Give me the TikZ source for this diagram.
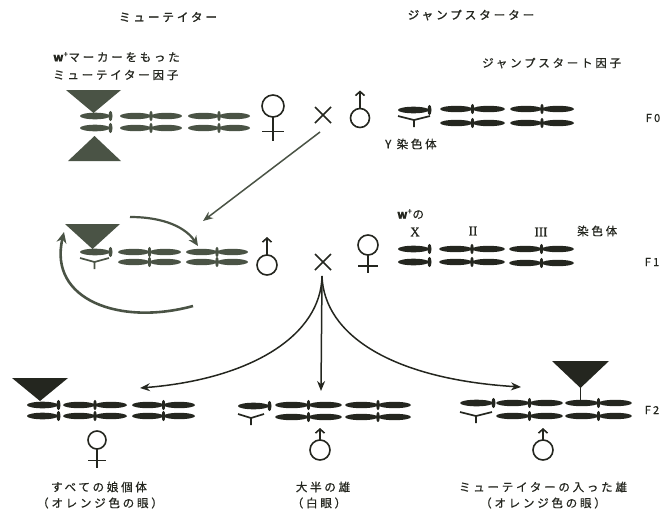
\documentclass[tikz,border=0pt]{standalone}
\usepackage{fontspec}
\setmainfont[FakeBold=0.7]{Noto Sans CJK JP}
\newfontfamily\headfont[FakeBold=1.6]{Noto Sans CJK JP}
\newfontfamily\numfont[FakeBold=0.8]{Liberation Serif}
\usetikzlibrary{arrows.meta}

\definecolor{ink}{HTML}{24261F}
\definecolor{mink}{HTML}{4A5345}

\tikzset{
  lab/.style={inner sep=0pt, text=ink,
    font=\fontsize{11.5}{13}\selectfont\addfontfeatures{LetterSpace=24}},
  title/.style={inner sep=0pt, text=ink,
    font=\headfont\fontsize{11.5}{13}\selectfont\addfontfeatures{LetterSpace=26}},
  gen/.style={inner sep=0pt, text=ink,
    font=\fontsize{11}{12}\selectfont\addfontfeatures{LetterSpace=20}},
  roman/.style={inner sep=0pt, text=ink, font=\numfont\fontsize{13}{15}\selectfont},
  sym/.style={draw=ink, line width=1.6pt},
  arr/.style={draw=ink, line width=1.5pt, -{Stealth[length=10pt,width=8pt]}},
  arrM/.style={draw=mink, line width=1.5pt, -{Stealth[length=10pt,width=8pt]}},
  arrBig/.style={draw=mink, line width=2.6pt, -{Stealth[length=11pt,width=10pt]}},
}

% metacentric chromosome: colour, left x, y, length
\newcommand\chrM[4]{%
  \fill[#1] ({#2+#4*0.25},#3) ellipse [x radius={#4*0.25}, y radius=3.2];
  \fill[#1] ({#2+#4*0.75},#3) ellipse [x radius={#4*0.25}, y radius=3.2];
  \fill[#1] ({#2+#4*0.5},#3) ellipse [x radius=1.8, y radius=5.2];}
% X chromosome with its knob at the right end: colour, left x, y, length
\newcommand\chrX[4]{%
  \fill[#1] ({#2+(#4-3)/2},#3) ellipse [x radius={(#4-3)/2}, y radius=3.3];
  \fill[#1] ({#2+#4-2.5},#3) ellipse [x radius=2, y radius=5.2];}
% Y chromosome: colour, left x, top y, width
\newcommand\chrY[4]{%
  \draw[#1, line width=1.7pt] (#2,#3) -- ({#2+#4/2},{#3+4}) -- ({#2+#4},#3)
    ({#2+#4/2},{#3+4}) -- ({#2+#4/2},{#3+11});}
% transposon triangle: colour, left, right, base y, apex y
\newcommand\trid[5]{%
  \fill[#1] (#2,#4) -- (#3,#4) -- ({(#2+#3)/2},#5) -- cycle;}
% female sign: x, y of ring centre, radius, tail length
\newcommand\femsym[4]{%
  \draw[sym] (#1,#2) circle [radius=#3];
  \draw[sym] (#1,{#2+#3}) -- (#1,{#2+#3+#4});
  \draw[sym] ({#1-#3},{#2+#3+#4*0.6}) -- ({#1+#3},{#2+#3+#4*0.6});}
% male sign with an upright arrow: x, y of ring centre, radius, stem length
\newcommand\malesym[4]{%
  \draw[sym] (#1,#2) circle [radius=#3];
  \draw[sym, -{Straight Barb[length=4pt,width=9pt]}] (#1,{#2-#3}) -- (#1,{#2-#3-#4});}
% cross sign
\newcommand\crosssym[2]{%
  \draw[sym] ({#1-8},{#2-8}) -- ({#1+8},{#2+8}) ({#1-8},{#2+8}) -- ({#1+8},{#2-8});}

\begin{document}
\begin{tikzpicture}[x=1pt,y=-1pt]
\useasboundingbox (0,0) rectangle (667,517);

% ---- headings
\node[title] (tmut) at (168,17) {ミューテイター};
\node[title] (tjump) at (471,15) {ジャンプスターター};
\node[lab, anchor=west] (mutA) at (53,57) {{\bfseries w}\textsuperscript{+}マーカーをもった};
\node[lab, anchor=west] (mutB) at (53,75) {ミューテイター因子};
\node[lab, anchor=west] (jsf) at (482,63) {ジャンプスタート因子};

% ---- generation F0
\trid{mink}{66}{121}{90}{113}
\trid{mink}{68}{121}{161}{136}
\chrX{mink}{80}{116}{33}
\chrX{mink}{80}{128}{33}
\chrM{mink}{120}{116}{62}
\chrM{mink}{120}{128}{62}
\chrM{mink}{188}{116}{62}
\chrM{mink}{188}{128}{62}
\femsym{273}{106}{11}{24}
\crosssym{323}{115}
\coordinate (x0) at (323,115);
\malesym{360}{118}{9.5}{18}
\chrX{ink}{398}{110}{34}
\chrY{ink}{398}{116}{32}
\chrM{ink}{440}{109}{65}
\chrM{ink}{440}{123}{65}
\chrM{ink}{510}{109}{64}
\chrM{ink}{510}{123}{64}
\node[lab, anchor=west] (ylab) at (385,144) {Y 染色体};
\node[gen] (g0) at (653,118) {F0};

% ---- generation F1
\coordinate (a0s) at (320,132);
\coordinate (a0e) at (203,221);
\draw[arrM] (a0s) -- (a0e);

\trid{mink}{65}{120}{224}{249}
\chrX{mink}{80}{252}{33}
\chrY{mink}{80}{258}{29}
\chrM{mink}{118}{252}{63}
\chrM{mink}{118}{262}{63}
\chrM{mink}{186}{252}{62}
\chrM{mink}{186}{262}{62}
\coordinate (hopS) at (130,217);
\coordinate (hopE) at (198,246);
\draw[draw=mink, line width=2.2pt, -{Stealth[length=10pt,width=9pt]}]
  (hopS) .. controls (165,217) and (186,228) .. (hopE);
\coordinate (loopS) at (193,306);
\coordinate (loopE) at (64,232);
\draw[arrBig] (loopS) .. controls (120,326) and (48,300) .. (loopE);
\malesym{267}{265}{10}{18}
\crosssym{323}{262}
\coordinate (x1) at (323,262);
\femsym{368}{245}{10}{18}
\chrX{ink}{398}{249}{34}
\chrX{ink}{398}{262}{34}
\chrM{ink}{439}{249}{66}
\chrM{ink}{439}{262}{66}
\chrM{ink}{509}{249}{65}
\chrM{ink}{509}{263}{65}
\node[lab, anchor=west] (wx) at (397,214) {{\bfseries w}\textsuperscript{+}の};
\node[roman] (lx) at (415,232) {X};
\node[roman] (l2) at (473,231) {II};
\node[roman] (l3) at (541,232) {III};
\node[lab, anchor=west] (lchr) at (577,231) {染色体};
\node[gen] (g1) at (652,262) {F1};

% ---- arrows to F2
\coordinate (bs) at (322,276);
\coordinate (bl) at (140,388);
\coordinate (bm) at (321,391);
\coordinate (br) at (521,387);
\draw[arr] (bs) -- (bm);
\draw[arr] (bs) .. controls (321,335) and (252,379) .. (bl);
\draw[arr] (bs) .. controls (324,335) and (392,379) .. (br);

% ---- generation F2: daughters
\trid{ink}{12}{68}{378}{401}
\chrX{ink}{27}{405}{34}
\chrX{ink}{27}{416}{34}
\chrM{ink}{63}{405}{64}
\chrM{ink}{63}{416}{64}
\chrM{ink}{132}{405}{63}
\chrM{ink}{132}{416}{63}
\femsym{97}{440}{9}{19}
\node[lab] (d1) at (99,487) {すべての娘個体};
\node[lab] (d2) at (100,503) {（オレンジ色の眼）};

% ---- generation F2: most sons
\chrX{ink}{238}{406}{34}
\chrY{ink}{238}{414}{26}
\chrM{ink}{275}{405}{67}
\chrM{ink}{275}{417}{67}
\chrM{ink}{345}{405}{66}
\chrM{ink}{345}{417}{66}
\malesym{320}{450}{10}{12}
\node[lab] (m1) at (323,487) {大半の雄};
\node[lab] (m2) at (319,503) {（白眼）};

% ---- generation F2: sons carrying the mutator
\trid{ink}{552}{609}{361}{388}
\draw[ink, line width=1.3pt] (580.5,386) -- (580.5,401);
\chrX{ink}{460}{403}{36}
\chrY{ink}{460}{412}{32}
\chrM{ink}{496}{403}{67}
\chrM{ink}{496}{416}{67}
\chrM{ink}{565}{403}{67}
\chrM{ink}{565}{416}{67}
\malesym{543}{450}{10}{12}
\node[lab] (s1) at (543,487) {ミューテイターの入った雄};
\node[lab] (s2) at (543,503) {（オレンジ色の眼）};
\node[gen] (g2) at (652,410) {F2};
\end{tikzpicture}
\end{document}
